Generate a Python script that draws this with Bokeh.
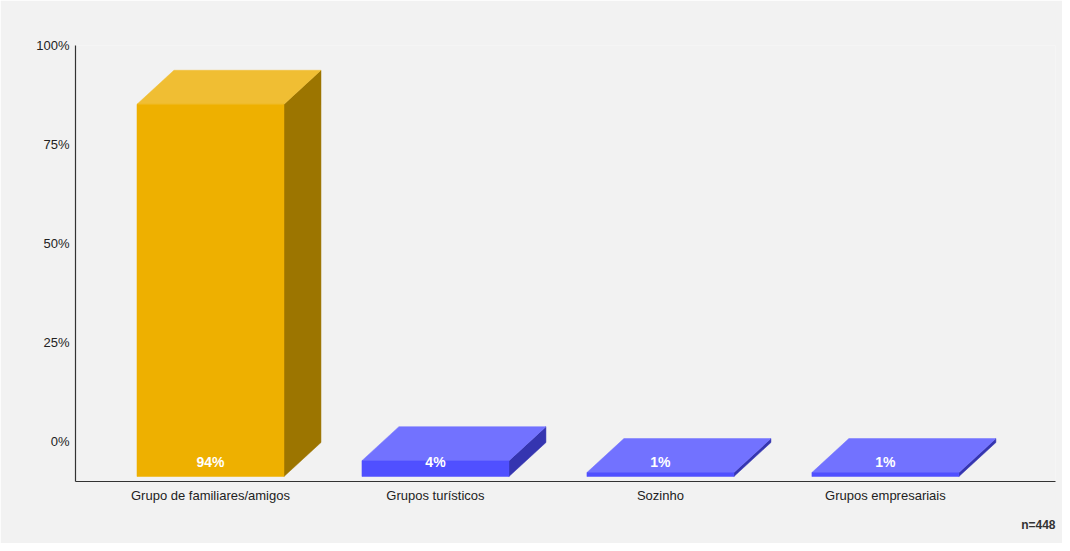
from bokeh.plotting import figure
from bokeh.models import FixedTicker, Range1d, Title
from bokeh.core.properties import value
from bokeh.embed import file_html
from bokeh.resources import INLINE

categories = ["Grupo de familiares/amigos", "Grupos turísticos", "Sozinho", "Grupos empresariais"]
values = [94, 4, 1, 1]
labels = ["94%", "4%", "1%", "1%"]
y_ticks = [0, 25, 50, 75, 100]
front_colors = ["#EEB000", "#5050FF", "#5050FF", "#5050FF"]
top_colors = ["#F0BE33", "#7272FF", "#7272FF", "#7272FF"]
side_colors = ["#9C7500", "#3535B0", "#3535B0", "#3535B0"]
note = "n=448"

FONT = "Liberation Sans"
BG = "#F2F2F2"

p = figure(width=1062, height=543, output_backend="svg", toolbar_location=None,
           x_range=Range1d(-0.6, 3.756), y_range=Range1d(-10.1, 100),
           min_border_left=75, min_border_right=7, min_border_top=45, min_border_bottom=62)
p.background_fill_color = BG
p.border_fill_color = BG
p.outline_line_color = None
p.grid.visible = False

base = -8.84
hw = 0.3267
dx = 0.1644
dy = 8.59

xs_front, ys_front, xs_top, ys_top, xs_side, ys_side = [], [], [], [], [], []
for i, v in enumerate(values):
    x0, x1 = i - hw, i + hw
    top = base + v
    xs_front.append([x0, x1, x1, x0]); ys_front.append([base, base, top, top])
    xs_top.append([x0, x1, x1 + dx, x0 + dx]); ys_top.append([top, top, top + dy, top + dy])
    xs_side.append([x1, x1 + dx, x1 + dx, x1]); ys_side.append([base, base + dy, top + dy, top])

p.patches(xs_side, ys_side, fill_color=side_colors, line_color=side_colors, line_width=0.5)
p.patches(xs_top, ys_top, fill_color=top_colors, line_color=top_colors, line_width=0.5)
p.patches(xs_front, ys_front, fill_color=front_colors, line_color=front_colors, line_width=0.5)

p.text(x=list(range(len(values))), y=[base + 3.55] * len(values), text=labels,
       text_color="white", text_font=value(FONT), text_font_style="bold",
       text_font_size="14px", text_align="center", text_baseline="middle")

p.yaxis.ticker = FixedTicker(ticks=y_ticks)
p.yaxis.major_label_overrides = {t: f"{t}%" for t in y_ticks}
p.xaxis.ticker = FixedTicker(ticks=list(range(len(categories))))
p.xaxis.major_label_overrides = {i: c for i, c in enumerate(categories)}
for ax in (p.xaxis, p.yaxis):
    ax.major_tick_line_color = None
    ax.minor_tick_line_color = None
    ax.major_tick_out = 0
    ax.major_tick_in = 0
    ax.minor_tick_out = 0
    ax.axis_line_color = "#333333"
    ax.axis_line_width = 1.2
    ax.major_label_text_font = FONT
    ax.major_label_text_font_size = "13px"
    ax.major_label_text_color = "#222222"
p.yaxis.major_label_standoff = 6
p.xaxis.major_label_standoff = 6

p.add_layout(Title(text=note, align="right", text_font=FONT, text_font_style="bold",
                   text_font_size="12px", text_color="#333333", standoff=20), "below")

open("out.html", "w").write(file_html(p, INLINE))
